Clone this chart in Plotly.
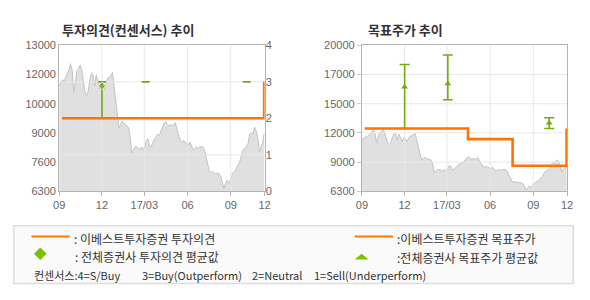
import plotly.graph_objects as go
import pandas as pd

# ---------------- data ----------------
price = [11130, 11280, 11430, 11350, 11500, 11650, 11870, 12160, 11870, 10840,
         11430, 11800, 11940, 12090, 11870, 11280, 10840, 10690, 10910, 11430,
         11720, 11650, 11130, 11650, 11280, 10990, 11350, 11210, 10990, 11280,
         11500, 11500, 11650, 11750, 11130, 10550, 9960, 9220, 9370, 9520,
         9370, 9370, 9300, 9220, 8780, 8050, 8200, 8340, 8340, 8270,
         8200, 8340, 8200, 8340, 8640, 8710, 8340, 8340, 8490, 8710,
         8780, 8930, 8860, 9080, 9300, 9440, 9520, 9370, 9300, 9370,
         9300, 9370, 9440, 9150, 8930, 8640, 8560, 8640, 8560, 8490,
         8420, 8560, 8340, 8200, 8270, 8340, 8270, 8340, 8340, 8340,
         8200, 7900, 7610, 7240, 7170, 7200, 7140, 7090, 7140, 7090,
         7020, 6730, 6430, 6650, 6800, 6650, 6870, 7020, 7170, 7240,
         7390, 7530, 7680, 7980, 8200, 8270, 8340, 8490, 8930, 9000,
         8930, 9250, 9080, 8780, 8120, 8340, 8490, 8930]
price_start = "2016-09-01"
price_end = "2017-11-11"

x_range = ["2016-09-01", "2017-11-12"]
x_tick_dates = ["2016-09-01", "2016-12-01", "2017-03-01", "2017-06-01", "2017-09-01", "2017-11-12"]
x_tick_text = ["09", "12", "17/03", "06", "09", "12"]

left_price_ticks = [6300, 7640, 8980, 10320, 11660, 13000]
left_price_text = ["6300", "7600", "9000", "10000", "12000", "13000"]
opinion_ticks = [0, 1, 2, 3, 4]

right_price_ticks = [6300, 9040, 11780, 14520, 17260, 20000]
right_price_text = ["6300", "9000", "12000", "15000", "17000", "20000"]

# 이베스트투자증권 투자의견
ebest_op_dates = ["2016-09-07", "2017-11-11"]
ebest_op = [2, 3]
# 전체증권사 투자의견 평균값 (mean / min / max)
cons_op_dates = ["2016-12-01", "2017-03-04", "2017-10-05"]
cons_op_mean = [2.89, 3, 3]
cons_op_min = [2, 3, 3]
cons_op_max = [3, 3, 3]

# 이베스트투자증권 목표주가
ebest_tp_dates = ["2016-09-07", "2017-04-15", "2017-07-19", "2017-11-11"]
ebest_tp = [12200, 11200, 8700, 12200]
# 전체증권사 목표주가 평균값
cons_tp_dates = ["2016-12-01", "2017-03-03", "2017-10-05"]
cons_tp_mean = [16100, 16400, 12700]
cons_tp_min = [12200, 14900, 12200]
cons_tp_max = [18200, 19100, 13200]

# ---------------- style ----------------
W, H = 590, 300
ORANGE = "#ff7300"
GREEN = "#74aa10"
GREEN_L = "#7dc000"
AREA = "#e0e0e0"
AREA_LINE = "#c2c2c2"
GRID = "#e8e8e8"
AXIS = "#b4b4b4"
TICKFONT = dict(family="Liberation Sans, Arial", size=11, color="#666666")
KFONT = "Noto Sans CJK KR"

def px(x):
    return x / W

def py(y):
    return 1 - y / H

price_dates = pd.date_range(price_start, price_end, periods=len(price))

fig = go.Figure()

# ---------- left chart ----------
fig.add_trace(go.Scatter(x=price_dates, y=price, mode="lines", fill="tozeroy",
                         fillcolor=AREA, line=dict(color=AREA_LINE, width=1),
                         xaxis="x", yaxis="y", hoverinfo="skip"))

gx, gy = [], []
for d in x_tick_dates[1:-1]:
    gx += [d, d, None]
    gy += [opinion_ticks[0], opinion_ticks[-1], None]
for v in opinion_ticks[1:-1]:
    gx += [x_range[0], x_range[1], None]
    gy += [v, v, None]
fig.add_trace(go.Scatter(x=gx, y=gy, mode="lines", line=dict(color=GRID, width=1),
                         xaxis="x", yaxis="y2", hoverinfo="skip"))

op_sizes = [6 if mx > mn else 0 for mn, mx in zip(cons_op_min, cons_op_max)]
fig.add_trace(go.Scatter(
    x=cons_op_dates, y=cons_op_mean, mode="markers",
    marker=dict(symbol="diamond", size=op_sizes, color=GREEN),
    error_y=dict(type="data", symmetric=False,
                 array=[mx - m for m, mx in zip(cons_op_mean, cons_op_max)],
                 arrayminus=[m - mn for m, mn in zip(cons_op_mean, cons_op_min)],
                 color=GREEN, thickness=1.6, width=4),
    xaxis="x", yaxis="y2", hoverinfo="skip"))

fig.add_trace(go.Scatter(x=ebest_op_dates, y=ebest_op, mode="lines",
                         line=dict(color=ORANGE, width=2.6, shape="hv"),
                         xaxis="x", yaxis="y2", hoverinfo="skip"))

# ---------- right chart ----------
fig.add_trace(go.Scatter(x=price_dates, y=price, mode="lines", fill="tozeroy",
                         fillcolor=AREA, line=dict(color=AREA_LINE, width=1),
                         xaxis="x2", yaxis="y3", hoverinfo="skip"))

gx, gy = [], []
for d in x_tick_dates[1:-1]:
    gx += [d, d, None]
    gy += [right_price_ticks[0], right_price_ticks[-1], None]
for v in right_price_ticks[1:-1]:
    gx += [x_range[0], x_range[1], None]
    gy += [v, v, None]
fig.add_trace(go.Scatter(x=gx, y=gy, mode="lines", line=dict(color=GRID, width=1),
                         xaxis="x2", yaxis="y3", hoverinfo="skip"))

fig.add_trace(go.Scatter(
    x=cons_tp_dates, y=cons_tp_mean, mode="markers",
    marker=dict(symbol="triangle-up", size=6, color=GREEN),
    error_y=dict(type="data", symmetric=False,
                 array=[mx - m for m, mx in zip(cons_tp_mean, cons_tp_max)],
                 arrayminus=[m - mn for m, mn in zip(cons_tp_mean, cons_tp_min)],
                 color=GREEN, thickness=1.6, width=5),
    xaxis="x2", yaxis="y3", hoverinfo="skip"))

fig.add_trace(go.Scatter(x=ebest_tp_dates, y=ebest_tp, mode="lines",
                         line=dict(color=ORANGE, width=2.6, shape="hv"),
                         xaxis="x2", yaxis="y3", hoverinfo="skip"))

# ---------- axes ----------
ydom = [py(193), py(41)]
xcommon = dict(type="date", range=x_range, tickvals=x_tick_dates, ticktext=x_tick_text,
               showgrid=False, zeroline=False, showline=True, linecolor=AXIS, linewidth=1,
               mirror=True, ticks="outside", ticklen=4, tickcolor=AXIS, tickfont=TICKFONT,
               fixedrange=True)

fig.update_layout(
    width=W, height=H, margin=dict(l=0, r=0, t=0, b=0),
    paper_bgcolor="white", plot_bgcolor="white", showlegend=False,
    xaxis=dict(domain=[px(54.3), px(264)], anchor="y", **xcommon),
    yaxis=dict(domain=ydom, range=[left_price_ticks[0], left_price_ticks[-1]],
               tickvals=left_price_ticks, ticktext=left_price_text,
               showgrid=False, zeroline=False, showline=True, linecolor=AXIS,
               mirror=True, ticks="", tickfont=TICKFONT, anchor="x"),
    yaxis2=dict(overlaying="y", side="right", anchor="x", range=[0, 4],
                tickvals=opinion_ticks, showgrid=False, zeroline=False,
                showline=False, ticks="", tickfont=TICKFONT),
    xaxis2=dict(domain=[px(363.3), px(572.7)], anchor="y3", **xcommon),
    yaxis3=dict(domain=ydom, anchor="x2",
                range=[right_price_ticks[0], right_price_ticks[-1]],
                tickvals=right_price_ticks, ticktext=right_price_text,
                showgrid=False, zeroline=False, showline=True, linecolor=AXIS,
                mirror=True, ticks="outside", ticklen=4, tickcolor="#cccccc",
                tickfont=TICKFONT),
)

# ---------- titles ----------
ann = []
ann.append(dict(text="<b>투자의견(컨센서스) 추이</b>", x=px(55), y=py(24), xref="paper", yref="paper",
                xanchor="left", yanchor="middle", showarrow=False,
                font=dict(family=KFONT, size=13, color="#333333")))
ann.append(dict(text="<b>목표주가 추이</b>", x=px(367), y=py(24), xref="paper", yref="paper",
                xanchor="left", yanchor="middle", showarrow=False,
                font=dict(family=KFONT, size=13, color="#333333")))

# ---------- legend box ----------
shapes = []
shapes.append(dict(type="rect", xref="paper", yref="paper",
                   x0=px(8), x1=px(579), y0=py(289), y1=py(229),
                   fillcolor="#fafafa", line=dict(color="#dddddd", width=1.5), layer="below"))
shapes.append(dict(type="line", xref="paper", yref="paper", x0=px(26), x1=px(65),
                   y0=py(240), y1=py(240), line=dict(color=ORANGE, width=2)))
shapes.append(dict(type="line", xref="paper", yref="paper", x0=px(356), x1=px(395),
                   y0=py(240), y1=py(240), line=dict(color=ORANGE, width=2)))

def path(pts):
    return "M " + " L ".join(f"{px(a):.5f},{py(b):.5f}" for a, b in pts) + " Z"

shapes.append(dict(type="path", xref="paper", yref="paper",
                   path=path([(35, 251.5), (41.5, 258), (35, 264.5), (28.5, 258)]),
                   fillcolor=GREEN_L, line=dict(width=0)))
shapes.append(dict(type="path", xref="paper", yref="paper",
                   path=path([(356, 264), (370, 264), (363, 258)]),
                   fillcolor=GREEN_L, line=dict(width=0)))

leg_items = [
    (67, 242, ": 이베스트투자증권 투자의견", 12),
    (68, 261, ": 전체증권사 투자의견 평균값", 12),
    (397, 242, ":이베스트투자증권 목표주가", 12),
    (397, 262, ":전체증권사 목표주가 평균값", 12),
    (27, 280, "컨센서스:4=S/Buy", 11),
    (137, 280, "3=Buy(Outperform)", 11),
    (249, 280, "2=Neutral", 11),
    (312, 280, "1=Sell(Underperform)", 11),
]
for x, y, t, s in leg_items:
    ann.append(dict(text=t, x=px(x), y=py(y), xref="paper", yref="paper",
                    xanchor="left", yanchor="middle", showarrow=False,
                    font=dict(family=KFONT, size=s, color="#333333")))

fig.update_layout(annotations=ann, shapes=shapes)
fig.write_html("out.html")
